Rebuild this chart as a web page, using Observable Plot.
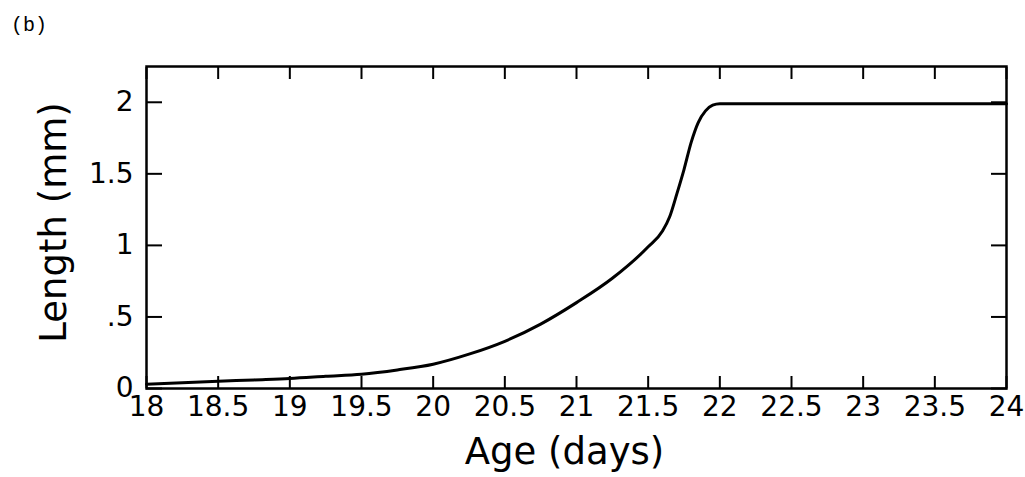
<!DOCTYPE html>
<html><head><meta charset="utf-8">
<script src="https://cdn.jsdelivr.net/npm/d3@7"></script>
<script src="https://cdn.jsdelivr.net/npm/@observablehq/plot@0.6"></script>
<style>
body{margin:0;background:#fff;}
#wrap{position:relative;width:1025px;height:477px;}
#tag{position:absolute;left:11px;top:16px;font:20px "Liberation Mono",monospace;color:#000;line-height:1;}
</style></head><body>
<div id="wrap"><div id="tag">(b)</div><div id="chart"></div></div>
<script>
const ageDays = [18.0, 18.25, 18.5, 18.75, 19.0, 19.25, 19.5, 19.75, 20.0, 20.25, 20.5, 20.75, 21.0, 21.25, 21.5, 21.6, 21.65, 21.7, 21.75, 21.8, 21.85, 21.9, 21.95, 22.0, 23.0, 24.0];
const lengthMm = [0.03, 0.04, 0.05, 0.06, 0.07, 0.085, 0.10, 0.13, 0.17, 0.24, 0.33, 0.45, 0.60, 0.77, 0.99, 1.10, 1.20, 1.36, 1.53, 1.72, 1.86, 1.94, 1.98, 1.99, 1.99, 1.99];
const xTicks = [18, 18.5, 19, 19.5, 20, 20.5, 21, 21.5, 22, 22.5, 23, 23.5, 24];
const yTicks = [0, 0.5, 1, 1.5, 2];
const yTickLabels = ["0", ".5", "1", "1.5", "2"];
const xLabel = "Age (days)";
const yLabel = "Length (mm)";

const data = ageDays.map((a, i) => ({age: a, len: lengthMm[i]}));

const chart = Plot.plot({
  width: 1025, height: 477,
  marginLeft: 146, marginRight: 19, marginTop: 66, marginBottom: 89,
  style: {fontFamily: "DejaVu Sans", fontSize: "28px", color: "#000", background: "#fff"},
  x: {domain: [18, 24]},
  y: {domain: [0, 2.25]},
  marks: [
    Plot.axisX(xTicks, {anchor: "bottom", tickSize: -12, tickPadding: 20, tickFormat: d => String(d), label: null, strokeWidth: 2}),
    Plot.axisX(xTicks, {anchor: "top", tickSize: -12, tickFormat: () => "", label: null, strokeWidth: 2}),
    Plot.axisY(yTicks, {anchor: "left", tickSize: -16, tickPadding: 29, tickFormat: d => yTickLabels[yTicks.indexOf(d)], label: null, strokeWidth: 2}),
    Plot.axisY(yTicks, {anchor: "right", tickSize: -16, tickFormat: () => "", label: null, strokeWidth: 2}),
    Plot.frame({stroke: "#000", strokeWidth: 2.5}),
    Plot.line(data, {x: "age", y: "len", stroke: "#000", strokeWidth: 3, curve: "monotone-x"}),
    Plot.text([xLabel], {frameAnchor: "bottom", dy: 64, dx: -12, fontSize: 37, textAnchor: "middle", lineAnchor: "middle"}),
    Plot.text([yLabel], {frameAnchor: "left", dx: -92, dy: -5, rotate: -90, fontSize: 37, textAnchor: "middle", lineAnchor: "middle"})
  ]
});
document.getElementById("chart").appendChild(chart);
</script>
</body></html>
